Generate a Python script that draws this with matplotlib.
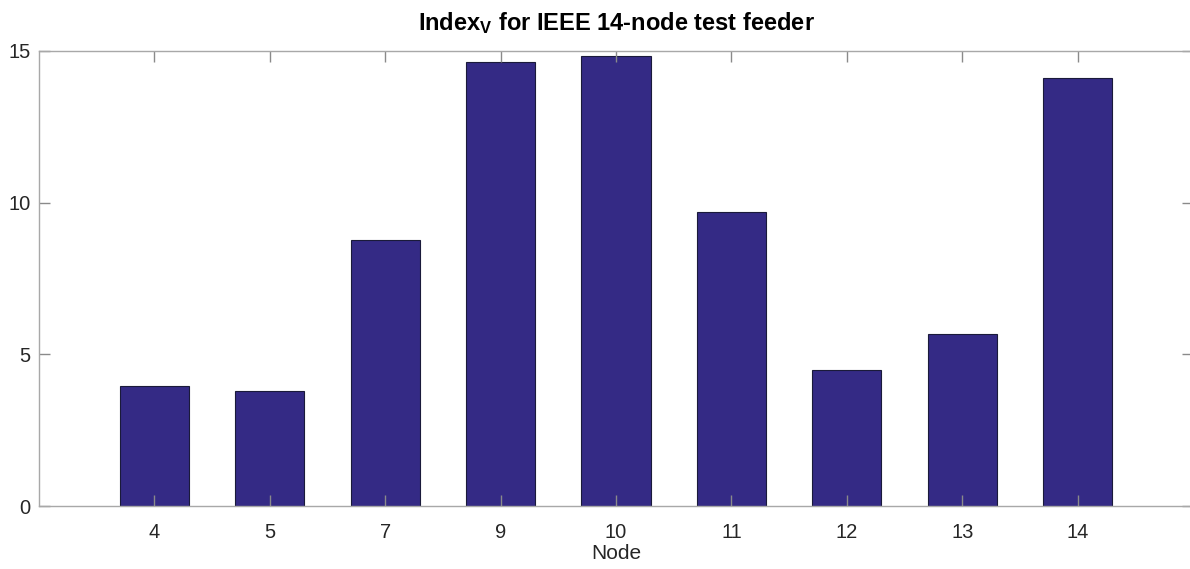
import matplotlib
matplotlib.use("Agg")
import matplotlib.pyplot as plt

# Index_V per node
nodes = ["4", "5", "7", "9", "10", "11", "12", "13", "14"]
index_v = [3.96, 3.79, 8.77, 14.64, 14.85, 9.70, 4.48, 5.67, 14.12]
y_ticks = [0, 5, 10, 15]

plt.rcParams['font.family'] = ['Liberation Sans', 'DejaVu Sans']
plt.rcParams['mathtext.default'] = 'regular'

fig = plt.figure(figsize=(11.9, 5.69), dpi=100)
ax = fig.add_axes([39 / 1190, 63 / 569, 1154 / 1190, 455 / 569])

pos = list(range(1, len(nodes) + 1))
ax.bar(pos, index_v, width=0.6, color='#342a85', edgecolor='#1a1a3a', linewidth=0.8)

ax.set_xlim(0, len(nodes) + 1)
ax.set_ylim(0, 15)
ax.set_xticks(pos)
ax.set_xticklabels(nodes)
ax.set_yticks(y_ticks)

for s in ax.spines.values():
    s.set_color('#a8a8a8')
    s.set_linewidth(1.0)
ax.tick_params(direction='in', length=8, width=1, color='#8a8a8a',
               top=True, right=True, labelsize=14.5, labelcolor='#262626', pad=12)
ax.tick_params(axis='y', pad=6)

ax.set_xlabel('Node', fontsize=15, color='#262626', labelpad=2)
ax.set_title(r'Index$_{V}$ for IEEE 14-node test feeder', fontsize=17,
             fontweight='bold', pad=15)

fig.savefig('out.png', dpi=100)
